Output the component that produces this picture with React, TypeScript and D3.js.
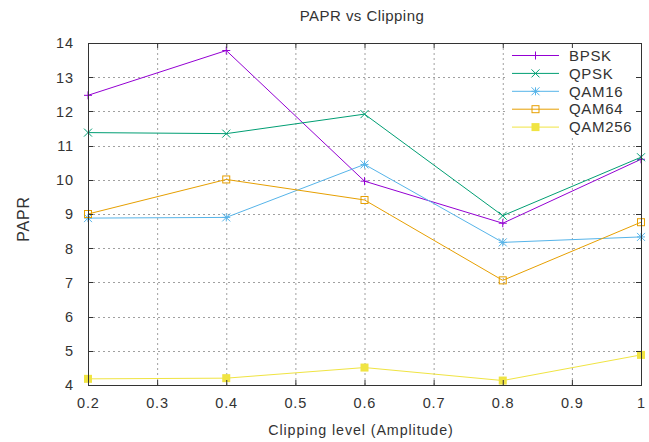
import React from "react";
import * as d3 from "d3";

const xValues = [0.2, 0.4, 0.6, 0.8, 1.0];
const seriesNames = ["BPSK", "QPSK", "QAM16", "QAM64", "QAM256"];
const bpsk = [12.47, 13.78, 9.96, 8.73, 10.6];
const qpsk = [11.38, 11.35, 11.92, 8.95, 10.66];
const qam16 = [8.88, 8.9, 10.45, 8.17, 8.33];
const qam64 = [9.0, 10.01, 9.41, 7.06, 8.76];
const qam256 = [4.18, 4.2, 4.51, 4.13, 4.88];
const xTicks = [0.2, 0.3, 0.4, 0.5, 0.6, 0.7, 0.8, 0.9, 1];
const xTickLabels = ["0.2", "0.3", "0.4", "0.5", "0.6", "0.7", "0.8", "0.9", "1"];
const yTicks = [4, 5, 6, 7, 8, 9, 10, 11, 12, 13, 14];
const colors = ["#9400d3", "#009e73", "#56b4e9", "#e69f00", "#f0e442"];
const markers = ["plus", "cross", "star", "square", "filled"];

const W = 649, H = 442;
const L = 88, R = 641, T = 43, B = 385;
const FONT = "'Liberation Sans', Arial, sans-serif";

function Marker({ type, x, y, color }: { type: string; x: number; y: number; color: string }) {
  const s = 4;
  if (type === "plus")
    return <path d={`M${x - s},${y}H${x + s}M${x},${y - s}V${y + s}`} stroke={color} strokeWidth={1} fill="none" />;
  if (type === "cross")
    return <path d={`M${x - s},${y - s}L${x + s},${y + s}M${x - s},${y + s}L${x + s},${y - s}`} stroke={color} strokeWidth={1} fill="none" />;
  if (type === "star")
    return <path d={`M${x - s},${y}H${x + s}M${x},${y - s}V${y + s}M${x - s},${y - s}L${x + s},${y + s}M${x - s},${y + s}L${x + s},${y - s}`} stroke={color} strokeWidth={1} fill="none" />;
  if (type === "square")
    return <rect x={x - 3.5} y={y - 3.5} width={7} height={7} stroke={color} strokeWidth={1} fill="none" />;
  return <rect x={x - 4} y={y - 4} width={8} height={8} fill={color} />;
}

export default function App() {
  const x = d3.scaleLinear().domain([0.2, 1]).range([L, R]);
  const y = d3.scaleLinear().domain([4, 14]).range([B, T]);
  const data = [bpsk, qpsk, qam16, qam64, qam256];
  const line = d3.line<number>().x((_, i) => x(xValues[i])).y((d) => y(d));

  const legX1 = 512, legX2 = 559, legTextX = 569, legY0 = 55.5, legDy = 17.9;
  const ls = 0.8;

  return (
    <svg width={W} height={H} style={{ position: "absolute", left: 0, top: 0, background: "#fff" }} fontFamily={FONT}>
      <rect x={0} y={0} width={W} height={H} fill="#fff" />
      {/* grid */}
      {xTicks.slice(1, -1).map((t) => (
        <line key={"gx" + t} x1={x(t) + 0.5} x2={x(t) + 0.5} y1={T} y2={B} stroke="#a0a0a0" strokeWidth={1} strokeDasharray="2,3" />
      ))}
      {yTicks.slice(1, -1).map((t) => (
        <line key={"gy" + t} x1={L} x2={R} y1={Math.round(y(t)) + 0.5} y2={Math.round(y(t)) + 0.5} stroke="#a0a0a0" strokeWidth={1} strokeDasharray="2,3" />
      ))}
      {/* legend background */}
      <rect x={505} y={T + 1} width={R - 506} height={93} fill="#fff" />
      {/* series */}
      {data.map((d, si) => (
        <g key={seriesNames[si]}>
          <path d={line(d) || ""} stroke={colors[si]} strokeWidth={1} fill="none" />
          {d.map((v, i) => (
            <Marker key={i} type={markers[si]} x={x(xValues[i])} y={y(v)} color={colors[si]} />
          ))}
        </g>
      ))}
      {/* frame */}
      <rect x={L + 0.5} y={T + 0.5} width={R - L} height={B - T} fill="none" stroke="#333" strokeWidth={1} />
      {/* ticks */}
      {xTicks.map((t, i) => (
        <g key={"xt" + t}>
          <line x1={x(t) + 0.5} x2={x(t) + 0.5} y1={B} y2={B - 5} stroke="#333" />
          <line x1={x(t) + 0.5} x2={x(t) + 0.5} y1={T} y2={T + 5} stroke="#333" />
          <text x={x(t) + ls / 2} y={B + 23} textAnchor="middle" fontSize={14.5} letterSpacing={ls} fill="#333">{xTickLabels[i]}</text>
        </g>
      ))}
      {yTicks.map((t) => (
        <g key={"yt" + t}>
          <line x1={L} x2={L + 5} y1={Math.round(y(t)) + 0.5} y2={Math.round(y(t)) + 0.5} stroke="#333" />
          <line x1={R - 5} x2={R} y1={Math.round(y(t)) + 0.5} y2={Math.round(y(t)) + 0.5} stroke="#333" />
          <text x={73 + ls} y={y(t) + 5.3} textAnchor="end" fontSize={14.5} letterSpacing={ls} fill="#333">{t}</text>
        </g>
      ))}
      {/* legend */}
      {seriesNames.map((n, si) => {
        const ly = legY0 + si * legDy;
        return (
          <g key={"lg" + n}>
            <line x1={legX1} x2={legX2} y1={ly} y2={ly} stroke={colors[si]} strokeWidth={1} />
            <Marker type={markers[si]} x={(legX1 + legX2) / 2} y={ly} color={colors[si]} />
            <text x={legTextX} y={ly + 5.2} fontSize={15} letterSpacing={0.7} fill="#333">{n}</text>
          </g>
        );
      })}
      {/* titles */}
      <text x={362} y={20.7} textAnchor="middle" fontSize={15} letterSpacing={0.45} fill="#333">PAPR vs Clipping</text>
      <text x={361} y={435} textAnchor="middle" fontSize={14.3} letterSpacing={0.9} fill="#333">Clipping level (Amplitude)</text>
      <text transform={`translate(29,219) rotate(-90)`} textAnchor="middle" fontSize={16} letterSpacing={0.8} fill="#333">PAPR</text>
    </svg>
  );
}
